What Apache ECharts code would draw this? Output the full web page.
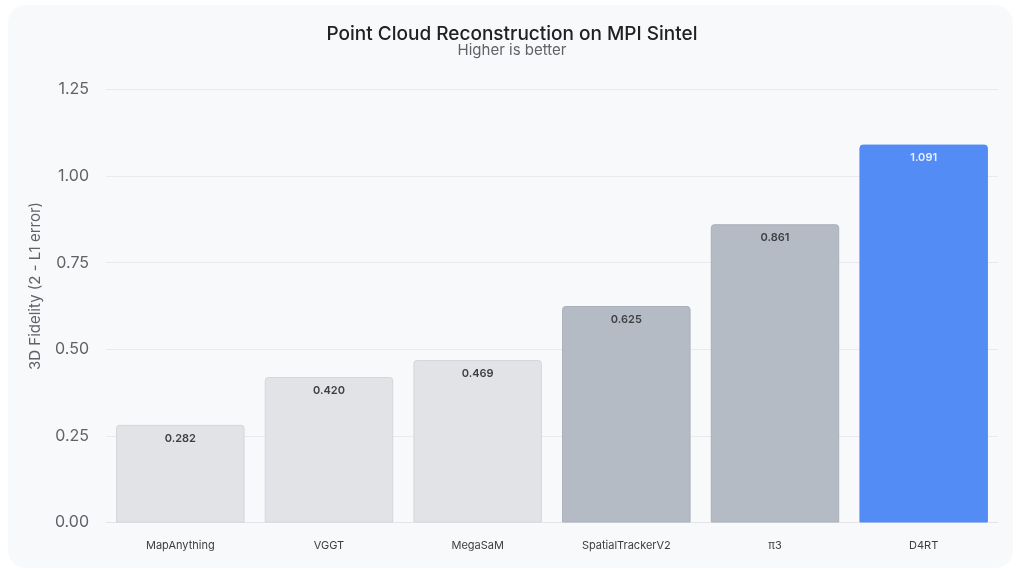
<!DOCTYPE html>
<html>
<head>
<meta charset="utf-8">
<script src="https://cdn.jsdelivr.net/npm/echarts@6/dist/echarts.min.js"></script>
<style>
html,body{margin:0;padding:0;background:#ffffff;}
#chart{width:1024px;height:577px;}
</style>
</head>
<body>
<div id="chart"></div>
<script>
const categories = ['MapAnything', 'VGGT', 'MegaSaM', 'SpatialTrackerV2', 'π3', 'D4RT'];
const values = [0.282, 0.420, 0.469, 0.625, 0.861, 1.091];
const barColors = ['#e1e3e7', '#e1e3e7', '#e1e3e7', '#b4bbc4', '#b4bbc4', '#538cf5'];
const barBorders = ['#d3d6da', '#d3d6da', '#d3d6da', '#a9b0b9', '#a9b0b9', '#538cf5'];
const labelColors = ['#3c4043', '#3c4043', '#3c4043', '#3c4043', '#3c4043', '#e8f0fe'];
const yTicks = [0, 0.25, 0.5, 0.75, 1.0, 1.25];

const FONT = 'Inter, "Noto Sans", sans-serif';
const chart = echarts.init(document.getElementById('chart'), null, {renderer: 'canvas'});

const option = {
  backgroundColor: '#ffffff',
  animation: false,
  graphic: [{
    type: 'rect', z: -10, silent: true,
    shape: {x: 8, y: 5, width: 1005, height: 563, r: 18},
    style: {fill: '#f8f9fb'}
  }],
  title: {
    text: 'Point Cloud Reconstruction on MPI Sintel',
    subtext: 'Higher is better',
    left: 'center',
    top: 24,
    padding: 0,
    itemGap: -2,
    textStyle: {fontFamily: FONT, fontSize: 19, fontWeight: 500, color: '#202124', lineHeight: 20},
    subtextStyle: {fontFamily: FONT, fontSize: 15, color: '#5f6368', lineHeight: 16}
  },
  grid: {left: 106, right: 26, top: 89.5, bottom: 54.5, containLabel: false},
  xAxis: {
    type: 'category',
    data: categories,
    axisLine: {show: true, lineStyle: {color: '#e3e5e8', width: 1}},
    axisTick: {show: false},
    axisLabel: {fontFamily: FONT, fontSize: 11, color: '#3c4043', margin: 18}
  },
  yAxis: {
    type: 'value',
    min: yTicks[0],
    max: yTicks[yTicks.length - 1],
    interval: 0.25,
    name: '3D Fidelity (2 - L1 error)',
    nameLocation: 'middle',
    nameGap: 63,
    nameTextStyle: {fontFamily: FONT, fontSize: 15, color: '#5f6368', padding: [0, 0, 0, 40]},
    axisLine: {show: false},
    axisTick: {show: false},
    splitLine: {lineStyle: {color: '#e8eaed', width: 1}},
    axisLabel: {
      fontFamily: FONT, fontSize: 16, color: '#5f6368', margin: 17,
      formatter: v => v.toFixed(2)
    }
  },
  series: [{
    type: 'bar',
    barCategoryGap: '13.6%',
    data: values.map((v, i) => ({
      value: v,
      itemStyle: {color: barColors[i], borderColor: barBorders[i], borderWidth: 1, borderRadius: [3, 3, 0, 0]},
      label: {color: labelColors[i]}
    })),
    label: {
      show: true,
      position: 'insideTop',
      distance: 8,
      fontFamily: FONT,
      fontSize: 11,
      fontWeight: 600,
      formatter: p => p.value.toFixed(3)
    }
  }]
};
chart.setOption(option);
</script>
</body>
</html>
